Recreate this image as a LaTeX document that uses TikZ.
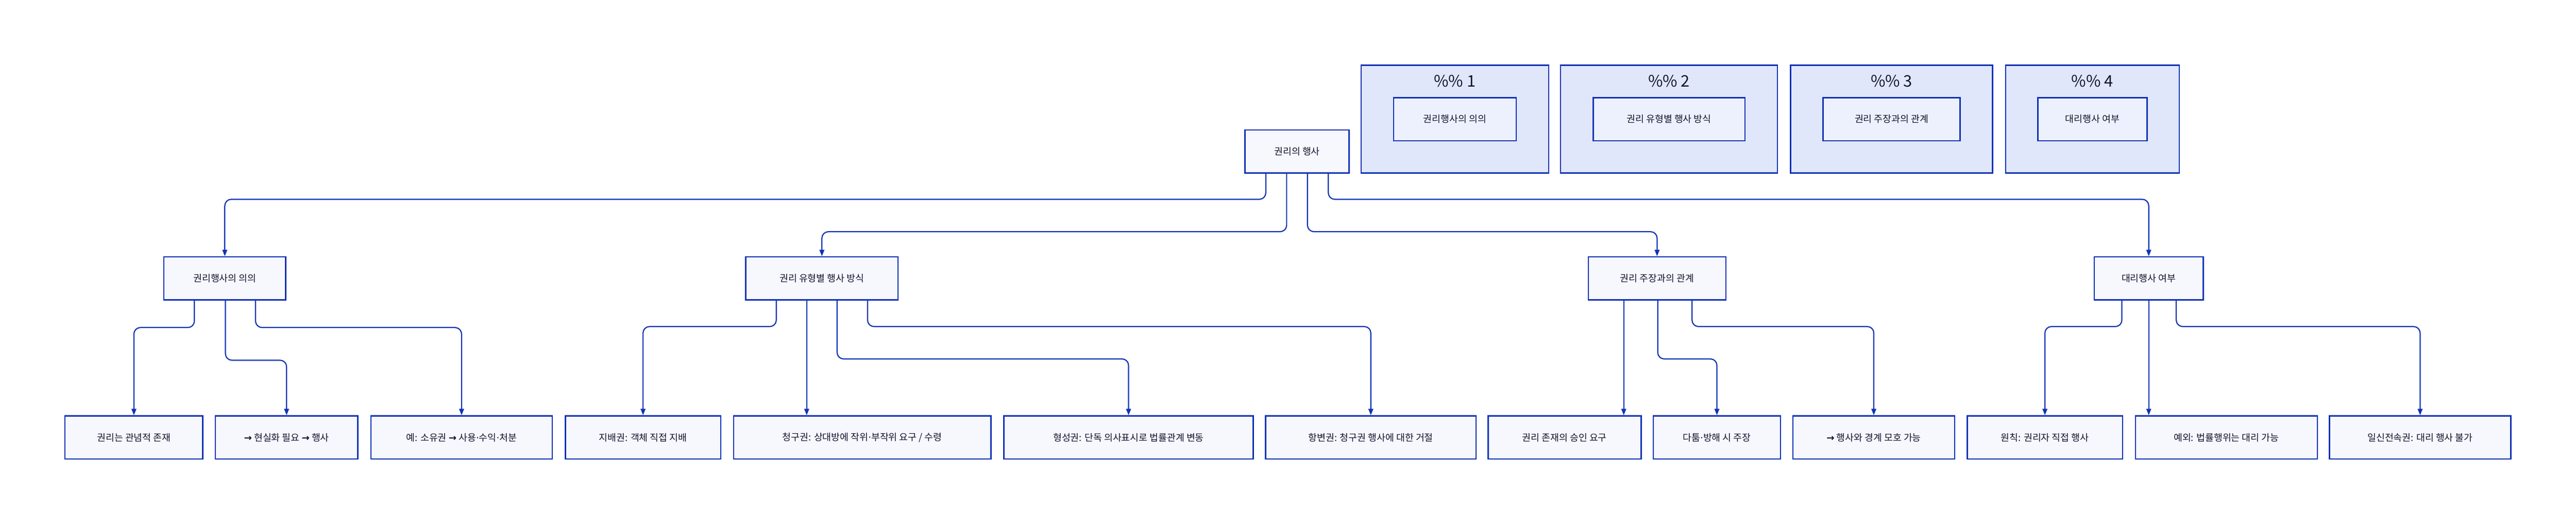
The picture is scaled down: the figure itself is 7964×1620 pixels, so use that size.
\documentclass[tikz,border=0pt]{standalone}
\usepackage{fontspec}
\setmainfont{Noto Sans CJK KR}
\newfontfamily\symfont{DejaVu Sans}
\newcommand{\rarr}{{\symfont\bfseries →}}
\newcommand{\mdot}{{\symfont ·}}
\usetikzlibrary{arrows.meta}
\definecolor{lineblue}{HTML}{0F33B5}
\definecolor{nodefill}{HTML}{F7F8FD}
\definecolor{grpfill}{HTML}{E0E7FA}
\definecolor{innerfill}{HTML}{ECF1FD}
\definecolor{ink}{HTML}{111530}

\begin{document}
\begin{tikzpicture}[x=0.01cm,y=-0.01cm,
    box/.style={draw=lineblue,fill=nodefill,line width=1.15pt,minimum height=1.33cm,inner sep=0pt,text=ink,font=\fontsize{8.3}{10}\selectfont},
    grp/.style={draw=lineblue,fill=grpfill,line width=1.15pt,minimum height=3.32cm,inner sep=0pt},
    edge/.style={draw=lineblue,line width=1pt,rounded corners=.2cm,-{Triangle[length=.2cm,width=.15cm]}}]
    \useasboundingbox (0,0) rectangle (7964,1620);

    % groups on the right
    \foreach \i/\x/\w/\iw/\t in {1/4498/5.79/3.79/권리행사의 의의, 2/5160/6.70/4.69/권리 유형별 행사 방식, 3/5848/6.24/4.24/권리 주장과의 관계, 4/6469/5.36/3.37/대리행사 여부} {
        \node[grp,minimum width=\w cm] (K\i) at (\x,368) {};
        \node[text=ink,font=\fontsize{14}{16}\selectfont] (T\i) at (\x,250) {\%\% \i};
        \node[box,fill=innerfill,minimum width=\iw cm] (I\i) at (\x,368) {\t};
    }

    \node[box,minimum width=3.22cm] (root) at (4010,468) {권리의 행사};

    \foreach \n/\x/\w/\t in {A/695/3.77/권리행사의 의의, B/2541/4.70/권리 유형별 행사 방식, C/5123/4.25/권리 주장과의 관계, D/6643/3.36/대리행사 여부}
        \node[box,minimum width=\w cm] (\n) at (\x,860) {\t};

    \foreach \n/\x/\w/\t in {A1/414/4.26/권리는 관념적 존재, A2/886/4.40/\rarr{} 현실화 필요 \rarr{} 행사, A3/1427/5.60/예: 소유권 \rarr{} 사용\mdot{}수익\mdot{}처분,
            B1/1988/4.80/지배권: 객체 직접 지배, B2/2666/7.95/{청구권: 상대방에 작위\mdot{}부작위 요구 / 수령}, B3/3489/7.70/형성권: 단독 의사표시로 법률관계 변동, B4/4238/6.50/항변권: 청구권 행사에 대한 거절,
            C1/4837/4.73/권리 존재의 승인 요구, C2/5308/3.93/다툼\mdot{}방해 시 주장, C3/5793/5.00/\rarr{} 행사와 경계 모호 가능,
            D1/6322/4.80/원칙: 권리자 직접 행사, D2/6883/5.62/예외: 법률행위는 대리 가능, D3/7482/5.60/일신전속권: 대리 행사 불가}
        \node[box,minimum width=\w cm] (\n) at (\x,1351) {\t};

    % connectors
    \foreach \p/\c/\s/\d in {root/A/-0.966/79, root/B/-0.322/179, root/C/0.322/179, root/D/0.966/79,
            A/A1/-0.94/83, A/A2/0.02/184, A/A3/0.95/83, B/B1/-1.41/80, B/B3/0.47/180, B/B4/1.41/80,
            C/C2/0.02/180, C/C3/1.08/80, D/D1/-0.83/80, D/D3/0.85/80}
        \draw[edge] ([xshift=\s cm]\p.south) -- ++(0,\d) -| (\c.north);

    \foreach \p/\c/\s in {B/B2/-0.47, C/C1/-1.03, D/D2/0}
        \draw[edge] ([xshift=\s cm]\p.south) -- ([xshift=\s cm]\p.south |- \c.north);
\end{tikzpicture}
\end{document}
